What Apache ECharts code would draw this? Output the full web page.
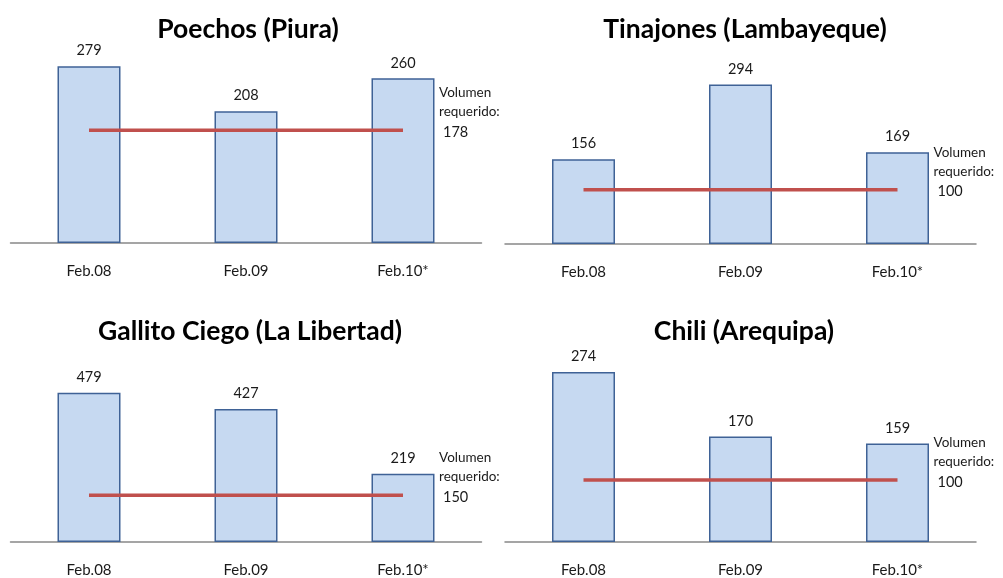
<!DOCTYPE html>
<html>
<head>
<meta charset="utf-8">
<script src="https://cdn.jsdelivr.net/npm/echarts@6/dist/echarts.min.js"></script>
<style>html,body{margin:0;padding:0;background:#fff}#c{width:1003px;height:578px}</style>
</head>
<body>
<div id="c"></div>
<script>
const categories = ['Feb.08', 'Feb.09', 'Feb.10*'];
const panelTitles = ['Poechos (Piura)', 'Tinajones (Lambayeque)', 'Gallito Ciego (La Libertad)', 'Chili (Arequipa)'];
const poechos = [279, 208, 260];
const tinajones = [156, 294, 169];
const gallitoCiego = [479, 427, 219];
const chili = [274, 170, 159];
const required = [178, 100, 150, 100];
const requiredLabel = 'Volumen\nrequerido:';
const yMax = [300, 350, 600, 300];

const panelValues = [poechos, tinajones, gallitoCiego, chili];
const grids = [
  {left: 10.5, width: 471, top: 53, height: 190},
  {left: 505, width: 471, top: 54, height: 190},
  {left: 10.5, width: 471, top: 355, height: 190},
  {left: 505, width: 471, top: 356, height: 190}
];
const titlePos = [[243, 11], [740, 11], [245, 313], [739, 313]];
const FONT = 'Lato, "Open Sans", sans-serif';

const option = {
  animation: false,
  backgroundColor: '#fff',
  title: panelTitles.map((t, i) => ({
    text: t, left: titlePos[i][0], top: titlePos[i][1], textAlign: 'center',
    textStyle: {fontFamily: FONT, fontWeight: 'bold', fontSize: 26.5, color: '#000'}
  })),
  grid: grids,
  xAxis: grids.map((g, i) => ({
    type: 'category', gridIndex: i, data: categories,
    axisLine: {lineStyle: {color: '#888', width: 1.5}},
    axisTick: {show: false},
    axisLabel: {margin: 21, fontFamily: FONT, fontSize: 15, color: '#1a1a1a'}
  })),
  yAxis: grids.map((g, i) => ({
    type: 'value', gridIndex: i, min: 0, max: yMax[i], show: false,
    splitLine: {show: false}
  })),
  series: []
};

panelValues.forEach((vals, i) => {
  option.series.push({
    type: 'bar', xAxisIndex: i, yAxisIndex: i, data: vals, barWidth: 63,
    itemStyle: {color: '#C6D9F1', borderColor: '#3F6296', borderWidth: 1.5},
    label: {show: true, position: 'top', distance: 8, fontFamily: FONT, fontSize: 14.5, color: '#1a1a1a'}
  });
  option.series.push({
    type: 'line', xAxisIndex: i, yAxisIndex: i,
    data: categories.map(() => required[i]),
    symbol: 'none', z: 5,
    lineStyle: {color: '#C0504D', width: 3.5},
    endLabel: {
      show: true, distance: 36, offset: [0, -17],
      formatter: () => '{a|' + requiredLabel.split('\n').join('}\n{a|') + '}\n{b|' + required[i] + '}',
      rich: {
        a: {fontFamily: FONT, fontSize: 13.5, lineHeight: 19, color: '#1a1a1a'},
        b: {fontFamily: FONT, fontSize: 14.5, lineHeight: 22, color: '#1a1a1a', padding: [0, 0, 0, 4]}
      }
    }
  });
});

const chart = echarts.init(document.getElementById('c'), null, {renderer: 'canvas'});
chart.setOption(option);
</script>
</body>
</html>
